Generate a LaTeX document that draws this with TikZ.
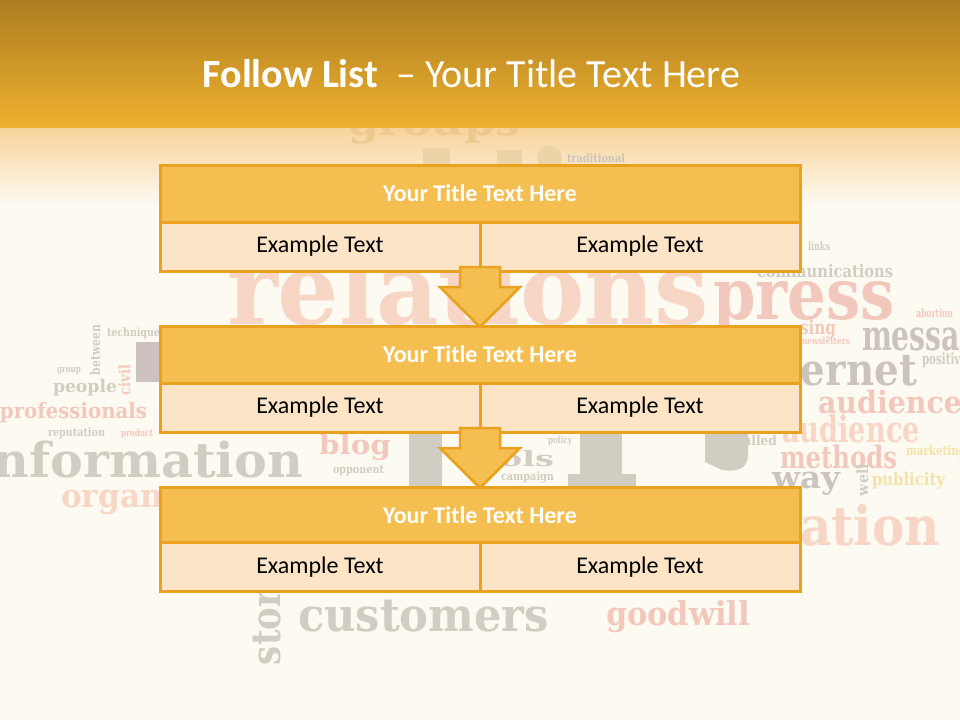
\documentclass[tikz,border=0pt]{standalone}
\usepackage{fontspec}
\usepackage{graphicx}
\setmainfont{Carlito}
\newfontfamily\wcfont{DejaVu Serif}
\definecolor{bgc}{HTML}{FDFAF2}
\definecolor{hdrA}{HTML}{AC7D21}
\definecolor{hdrB}{HTML}{EFB12E}
\definecolor{hdrC}{HTML}{F7D49A}
\definecolor{bord}{HTML}{E8A21F}
\definecolor{tfill}{HTML}{F5BE51}
\definecolor{cfill}{HTML}{FBE5C6}
\definecolor{wpink}{HTML}{F3C8BC}
\definecolor{wpinkL}{HTML}{F8D6C6}
\definecolor{wgray}{HTML}{D1CDC2}
\definecolor{wgrayD}{HTML}{CCC3BF}
\definecolor{wyel}{HTML}{F3E3AA}
\definecolor{wtanA}{HTML}{EDC98F}
\definecolor{wtanB}{HTML}{EDD3A8}
% word-cloud word: name, x, baseline y, width, x-height, colour, rotation, text
\newcommand\cloudword[8]{%
  \node[cloudw, text=#6, rotate=#7] (#1) at (#2,#3)
    {{\wcfont\bfseries\resizebox{#4pt}{#5pt}{\raisebox{0pt}[\fontcharht\font`x]{#8}}}};}
\tikzset{
  cloudw/.style={anchor=base west, inner sep=0pt, outer sep=0pt},
  titlebar/.style={draw=bord, line width=3pt, fill=tfill, minimum width=640pt,
    text=white, font=\fontsize{24}{28}\selectfont\bfseries, inner sep=0pt, outer sep=0pt},
  cellbox/.style={draw=bord, line width=3pt, fill=cfill, minimum width=320pt,
    minimum height=49pt, text=black, font=\fontsize{24}{28}\selectfont, inner sep=0pt, outer sep=0pt},
  arrowbox/.style={draw=bord, line width=2.5pt, fill=tfill, line join=miter}
}
\begin{document}
\begin{tikzpicture}[x=1pt,y=-1pt]
\path[use as bounding box] (0,0) rectangle (960,720);
\begin{scope}
\clip (0,0) rectangle (960,720);
\fill[bgc] (0,0) rectangle (960,720);
% ---- faded word cloud ----
\cloudword{w1}{227}{324}{482}{52}{wpinkL}{0}{relations}
\cloudword{w2}{713}{319}{182}{37}{wpink}{0}{press}
\cloudword{w3}{757}{277}{136}{9}{wgray}{0}{communications}
\cloudword{w4}{862}{350}{136}{22}{wgrayD}{0}{message}
\cloudword{w5}{740}{385}{177}{23}{wgrayD}{0}{internet}
\cloudword{w6}{818}{413}{160}{16}{wpink}{0}{audiences}
\cloudword{w7}{782}{442}{138}{19}{wpinkL}{0}{audience}
\cloudword{w8}{780}{468}{117}{16}{wpink}{0}{methods}
\cloudword{w9}{772}{488}{68}{16}{wgrayD}{0}{way}
\cloudword{w10}{872}{485}{73}{9}{wyel}{0}{publicity}
\cloudword{w11}{736}{445}{41}{7}{wgray}{0}{called}
\cloudword{w12}{800}{545}{140}{28}{wpinkL}{0}{ation}
\cloudword{w13}{906}{455}{60}{7}{wyel}{0}{marketing}
\cloudword{w14}{800}{334}{36}{10}{wpink}{0}{sing}
\cloudword{w15}{802}{344}{48}{5}{wpink}{0}{newsletters}
\cloudword{w16}{922}{364}{45}{8}{wgray}{0}{positive}
\cloudword{w17}{808}{250}{22}{6}{wgray}{0}{links}
\cloudword{w18}{916}{317}{37}{6}{wpink}{0}{abortion}
\cloudword{w19}{-25}{477}{328}{25}{wgray}{0}{information}
\cloudword{w20}{0}{418}{147}{11}{wpink}{0}{professionals}
\cloudword{w21}{53}{392}{64}{9}{wgray}{0}{people}
\cloudword{w22}{48}{436}{57}{6}{wgray}{0}{reputation}
\cloudword{w23}{121}{436}{32}{5}{wpink}{0}{product}
\cloudword{w24}{61}{507}{102}{17}{wpinkL}{0}{organ}
\cloudword{w25}{107}{336}{53}{6}{wgray}{0}{technique}
\cloudword{w26}{57}{372}{24}{5}{wgray}{0}{group}
\cloudword{w27}{319}{454}{72}{14}{wpink}{0}{blog}
\cloudword{w28}{462}{466}{92}{11}{wgray}{0}{tools}
\cloudword{w29}{501}{480}{53}{6}{wgray}{0}{campaign}
\cloudword{w30}{333}{473}{51}{6}{wgray}{0}{opponent}
\cloudword{w31}{548}{443}{24}{5}{wgray}{0}{policy}
\cloudword{w32}{298}{631}{251}{24}{wgray}{0}{customers}
\cloudword{w33}{606}{625}{144}{17}{wpink}{0}{goodwill}
\cloudword{w34}{280}{665}{95}{21}{wgray}{90}{story}
\cloudword{w35}{100}{375}{50}{7}{wgray}{90}{between}
\cloudword{w36}{130}{395}{30}{8}{wpink}{90}{civil}
\cloudword{w37}{868}{496}{32}{8}{wgray}{90}{well}
% giant hidden letter pieces
\fill[wgray] (409,432) rectangle (442,487);
\fill[wgray] (580,432) rectangle (622,487);
\fill[wgray] (568,474) rectangle (636,487);
\fill[wgray] (705,432) -- (748,432) -- (748,455) .. controls (748,470) and (735,472) .. (722,470) -- (705,462) -- cycle;
\fill[wgrayD] (136,342) rectangle (160,382);
% ---- header ----
\shade[top color=hdrA, bottom color=hdrB] (0,0) rectangle (960,128);
\shade[top color=hdrC, bottom color=bgc] (0,128) rectangle (960,205);
\begin{scope}
\clip (0,128) rectangle (960,205);
\cloudword{w38}{348}{135}{172}{20}{wtanA}{0}{groups}
\end{scope}
\fill[wtanB] (423,148) rectangle (450,166);
\fill[wtanB] (497,150) rectangle (522,166);
\fill[wtanB] (549.5,158) circle (12.5);
\cloudword{w39}{567}{162}{58}{6}{wgrayD}{0}{traditional}
\end{scope}
% ---- title ----
\node[anchor=base, text=white, font=\fontsize{40}{44}\selectfont, inner sep=0pt] (title) at (471.5,87)
  {\textbf{Follow List}\ \ – Your Title Text Here};
% ---- block 1 ----
\node[titlebar, minimum height=57pt] (t1) at (480,193.5) {Your Title Text Here};
\node[cellbox] (c1a) at (320,246.5) {Example Text};
\node[cellbox] (c1b) at (640,246.5) {Example Text};
% ---- arrow 1 ----
\draw[arrowbox] (c1a.south east) ++(-20,-4) -- ++(0,20) -- ++(-20,0) -- ++(40,40) -- ++(40,-40) -- ++(-20,0) -- ++(0,-20) -- cycle;
% ---- block 2 ----
\node[titlebar, minimum height=57pt] (t2) at (480,354.5) {Your Title Text Here};
\node[cellbox] (c2a) at (320,407.5) {Example Text};
\node[cellbox] (c2b) at (640,407.5) {Example Text};
% ---- arrow 2 ----
\draw[arrowbox] (c2a.south east) ++(-20,-4) -- ++(0,20) -- ++(-20,0) -- ++(40,40) -- ++(40,-40) -- ++(-20,0) -- ++(0,-20) -- cycle;
% ---- block 3 ----
\node[titlebar, minimum height=56pt] (t3) at (480,515) {Your Title Text Here};
\node[cellbox] (c3a) at (320,567) {Example Text};
\node[cellbox] (c3b) at (640,567) {Example Text};
\end{tikzpicture}
\end{document}
